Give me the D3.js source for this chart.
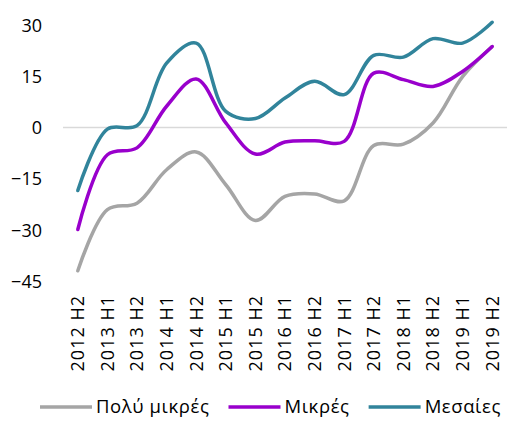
<!DOCTYPE html>
<html>
<head>
<meta charset="utf-8">
<script src="https://cdnjs.cloudflare.com/ajax/libs/d3/7.8.5/d3.min.js"></script>
<style>
  body { margin: 0; background: #fff; }
  svg text { font-family: "Open Sans", "Noto Sans", sans-serif; fill: #000; }
</style>
</head>
<body>
<svg id="chart" width="507" height="421"></svg>
<script>
var periods = ["2012 H2", "2013 H1", "2013 H2", "2014 H1", "2014 H2", "2015 H1", "2015 H2",
  "2016 H1", "2016 H2", "2017 H1", "2017 H2", "2018 H1", "2018 H2", "2019 H1", "2019 H2"];
var polyMikres = [-42, -24.1, -22.2, -12.4, -7.2, -16.8, -27.3, -20.2, -19.5, -21.5, -5.3, -4.9, 1.3, 14.9, 23.7];
var mikres = [-29.9, -8, -6, 6.2, 14.2, 1.3, -7.8, -4.3, -3.9, -4.1, 15.9, 14, 12, 16.4, 23.7];
var mesaies = [-18.5, -0.5, 0.5, 18.8, 24.7, 4.7, 2.6, 8.6, 13.5, 9.6, 21.1, 20.6, 26, 24.7, 30.8];
var yTicks = [30, 15, 0, -15, -30, -45];

var series = [
  { name: "Πολύ μικρές", values: polyMikres, color: "#A5A5A5" },
  { name: "Μικρές", values: mikres, color: "#9900CC" },
  { name: "Μεσαίες", values: mesaies, color: "#31849B" }
];

var svg = d3.select("#chart");
var margin = { left: 63, right: 0, top: 25, bottom: 140 };

var x = d3.scaleBand().domain(periods).range([margin.left, 507 - margin.right]);
var y = d3.scaleLinear().domain([-45, 30]).range([281, 25]);

// zero line
svg.append("line")
  .attr("x1", margin.left).attr("x2", 507)
  .attr("y1", y(0)).attr("y2", y(0))
  .attr("stroke", "#D9D9D9").attr("stroke-width", 1.5);

// y axis labels
var yAxis = d3.axisLeft(y).tickValues(yTicks).tickSize(0).tickPadding(0);
var gy = svg.append("g").attr("transform", "translate(42,0)").call(yAxis);
gy.select(".domain").remove();
gy.selectAll("text").style("font-size", "18px").attr("dy", "0.35em");

// x axis labels, rotated
var xAxis = d3.axisBottom(x).tickSize(0).tickPadding(0);
var gx = svg.append("g").attr("transform", "translate(0,295)").call(xAxis);
gx.select(".domain").remove();
gx.selectAll("text")
  .style("font-size", "18px")
  .style("letter-spacing", "1px")
  .attr("text-anchor", "end")
  .attr("transform", "rotate(-90)")
  .attr("x", 0).attr("y", 0).attr("dy", "0.35em");

// lines
var line = d3.line()
  .x(function (d, i) { return x(periods[i]) + x.bandwidth() / 2; })
  .y(function (d) { return y(d); })
  .curve(d3.curveCatmullRom.alpha(0.5));

series.forEach(function (s) {
  svg.append("path")
    .datum(s.values)
    .attr("d", line)
    .attr("fill", "none")
    .attr("stroke", s.color)
    .attr("stroke-width", 3.5)
    .attr("stroke-linecap", "round");
});

// legend
var legendY = 407;
var lx = 40;
series.forEach(function (s) {
  svg.append("line")
    .attr("x1", lx).attr("x2", lx + 52)
    .attr("y1", legendY).attr("y2", legendY)
    .attr("stroke", s.color).attr("stroke-width", 3.5);
  var t = svg.append("text")
    .attr("x", lx + 56).attr("y", legendY).attr("dy", "0.35em")
    .style("font-size", "18.5px")
    .style("letter-spacing", "0.6px")
    .text(s.name);
  lx = lx + 56 + t.node().getComputedTextLength() + 19;
});
</script>
</body>
</html>
